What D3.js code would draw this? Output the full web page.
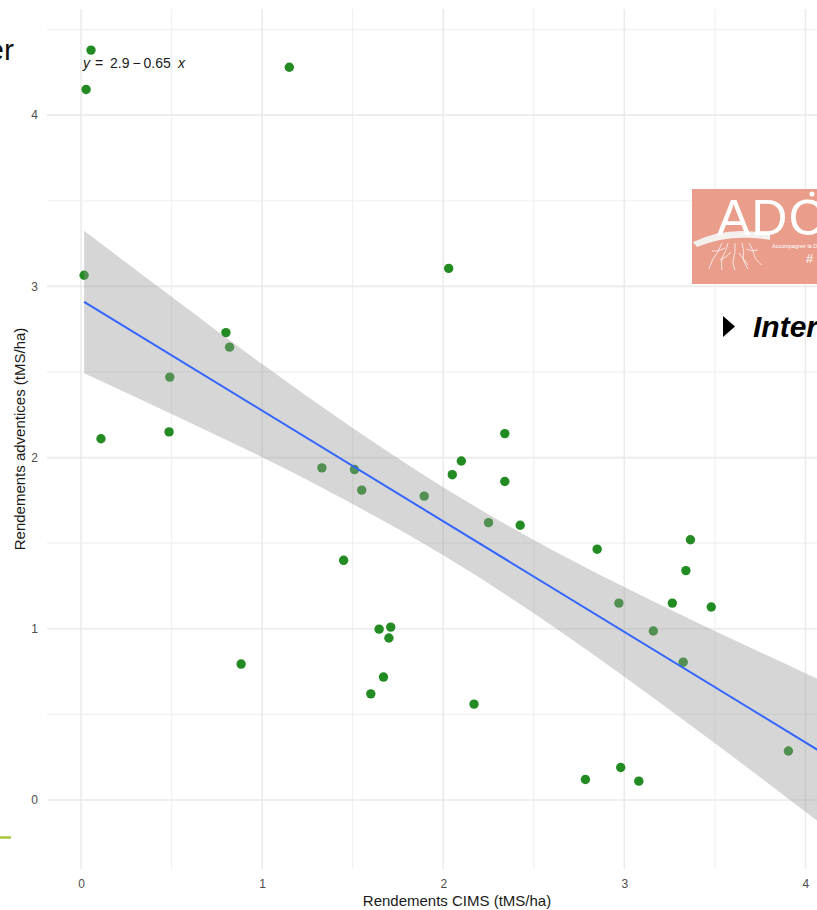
<!DOCTYPE html>
<html>
<head>
<meta charset="utf-8">
<script src="https://cdn.jsdelivr.net/npm/d3@7/dist/d3.min.js"></script>
<style>
  html, body { margin: 0; padding: 0; background: #ffffff; }
  svg { display: block; }
  text { font-family: "Liberation Sans", Arial, sans-serif; }
</style>
</head>
<body>
<svg id="chart" width="817" height="910"></svg>
<script>
// Rendements CIMS (x) vs rendements adventices (y), tMS/ha
const cimsYield = [0.055, 0.028, 1.15, 0.017, 2.03, 0.80, 0.82, 0.49, 0.11, 0.486,
  1.33, 1.51, 1.55, 1.895, 2.05, 2.10, 2.34, 2.34, 2.25, 2.425,
  1.45, 2.85, 3.365, 3.34, 2.97, 3.265, 3.16, 3.48, 3.325, 1.646,
  1.71, 1.70, 1.67, 1.60, 0.884, 2.17, 2.785, 2.98, 3.08, 3.906];
const weedYield = [4.38, 4.15, 4.28, 3.065, 3.105, 2.73, 2.645, 2.47, 2.11, 2.15,
  1.94, 1.93, 1.81, 1.775, 1.90, 1.98, 2.14, 1.86, 1.62, 1.605,
  1.40, 1.465, 1.52, 1.34, 1.15, 1.15, 0.987, 1.127, 0.805, 0.998,
  1.01, 0.946, 0.718, 0.62, 0.794, 0.56, 0.12, 0.19, 0.11, 0.286];

// Linear fit and its 95% confidence band
const fitCoef = [2.92, -0.646];           // intercept, slope
const fitRange = [0.017, 4.134];
const bandX  = [0.017, 0.5, 1.0, 1.5, 2.0, 2.5, 3.0, 3.5, 4.0, 4.134];
const bandLo = [2.493, 2.255, 2.002, 1.729, 1.429, 1.091, 0.720, 0.331, -0.069, -0.178];
const bandHi = [3.325, 2.939, 2.546, 2.173, 1.827, 1.519, 1.244, 0.987, 0.741, 0.676];

// Axes
const xLimits = [-0.188, 4.34];
const yLimits = [-0.403, 4.62];
const xTicks = [0, 1, 2, 3, 4];
const yTicks = [0, 1, 2, 3, 4];
const xMinor = [0.5, 1.5, 2.5, 3.5];
const yMinor = [0.5, 1.5, 2.5, 3.5, 4.5];

const svg = d3.select("#chart");
const W = 817, H = 910;
const panel = { left: 47, right: 867, top: 9, bottom: 869 };

const x = d3.scaleLinear().domain(xLimits).range([panel.left, panel.right]);
const y = d3.scaleLinear().domain(yLimits).range([panel.bottom, panel.top]);

svg.append("rect").attr("width", W).attr("height", H).attr("fill", "#ffffff");

// Grid (minor then major)
const grid = svg.append("g");
grid.selectAll(".xminor").data(xMinor).join("line")
  .attr("x1", d => x(d)).attr("x2", d => x(d))
  .attr("y1", panel.top).attr("y2", panel.bottom)
  .attr("stroke", "#f0f0f0").attr("stroke-width", 1.2);
grid.selectAll(".yminor").data(yMinor).join("line")
  .attr("y1", d => y(d)).attr("y2", d => y(d))
  .attr("x1", panel.left).attr("x2", panel.right)
  .attr("stroke", "#f0f0f0").attr("stroke-width", 1.2);
grid.selectAll(".xmajor").data(xTicks).join("line")
  .attr("x1", d => x(d)).attr("x2", d => x(d))
  .attr("y1", panel.top).attr("y2", panel.bottom)
  .attr("stroke", "#ebebeb").attr("stroke-width", 1.6);
grid.selectAll(".ymajor").data(yTicks).join("line")
  .attr("y1", d => y(d)).attr("y2", d => y(d))
  .attr("x1", panel.left).attr("x2", panel.right)
  .attr("stroke", "#ebebeb").attr("stroke-width", 1.6);

// Tick labels via d3 axes (no domain line, no tick marks)
const xAxis = svg.append("g")
  .attr("transform", `translate(0,${panel.bottom})`)
  .call(d3.axisBottom(x).tickValues(xTicks).tickFormat(d3.format("d")).tickSize(0).tickPadding(10));
const yAxis = svg.append("g")
  .attr("transform", `translate(${panel.left},0)`)
  .call(d3.axisLeft(y).tickValues(yTicks).tickFormat(d3.format("d")).tickSize(0).tickPadding(9));
[xAxis, yAxis].forEach(g => {
  g.select(".domain").remove();
  g.selectAll("text").attr("fill", "#4d4d4d").attr("font-size", 12)
    .attr("font-family", "Liberation Sans, Arial, sans-serif");
});

svg.append("text")
  .attr("x", (panel.left + panel.right) / 2).attr("y", 906)
  .attr("text-anchor", "middle").attr("font-size", 15).attr("fill", "#1a1a1a")
  .text("Rendements CIMS (tMS/ha)");
svg.append("text")
  .attr("transform", `translate(25,${(panel.top + panel.bottom) / 2}) rotate(-90)`)
  .attr("text-anchor", "middle").attr("font-size", 15).attr("fill", "#1a1a1a")
  .text("Rendements adventices (tMS/ha)");

// Clip for the plotting panel
svg.append("clipPath").attr("id", "panelClip").append("rect")
  .attr("x", panel.left).attr("y", panel.top)
  .attr("width", panel.right - panel.left).attr("height", panel.bottom - panel.top);
const plot = svg.append("g").attr("clip-path", "url(#panelClip)");

// Points
plot.selectAll("circle.pt").data(cimsYield.map((v, i) => [v, weedYield[i]])).join("circle")
  .attr("class", "pt")
  .attr("cx", d => x(d[0])).attr("cy", d => y(d[1])).attr("r", 4.7)
  .attr("fill", "#228B22");

// Confidence band drawn over the points
const band = d3.area()
  .x(d => x(d[0])).y0(d => y(d[1])).y1(d => y(d[2]))
  .curve(d3.curveMonotoneX);
plot.append("path")
  .datum(bandX.map((v, i) => [v, bandLo[i], bandHi[i]]))
  .attr("d", band).attr("fill", "#999999").attr("fill-opacity", 0.4);

// Fitted line
const fitLine = d3.line().x(d => x(d)).y(d => y(fitCoef[0] + fitCoef[1] * d));
plot.append("path").datum(fitRange).attr("d", fitLine)
  .attr("fill", "none").attr("stroke", "#3366FF").attr("stroke-width", 2);

// Equation label, laid out piece by piece like a plotmath expression
const fmt2 = v => d3.format(".2")(v);
const eqParts = [
  { t: "y", italic: true, at: 83 },
  { t: "=", at: 95 },
  { t: fmt2(fitCoef[0]), at: 110 },
  { t: fitCoef[1] < 0 ? "\u2212" : "+", at: 132.5 },
  { t: fmt2(Math.abs(fitCoef[1])), at: 143.5 },
  { t: "x", italic: true, at: 178 }
];
const eq = svg.append("text").attr("y", 68).attr("font-size", 14).attr("fill", "#1a1a1a");
eqParts.forEach(p => {
  eq.append("tspan").attr("x", p.at).attr("font-style", p.italic ? "italic" : "normal").text(p.t);
});

// Slide elements around the chart
svg.append("text").attr("x", 14).attr("y", 60).attr("text-anchor", "end")
  .attr("font-size", 30).attr("fill", "#111").text("er");

svg.append("line").attr("x1", 0).attr("x2", 11).attr("y1", 837.5).attr("y2", 837.5)
  .attr("stroke", "#a5c83c").attr("stroke-width", 2.5);

// Logo block
const logo = svg.append("g");
logo.append("rect").attr("x", 692).attr("y", 189).attr("width", 130).attr("height", 95).attr("fill", "#ea9d8b");
logo.append("path")
  .attr("d", "M693,242 Q728,225 770,234 L770,240 Q730,233 697,247 Z")
  .attr("fill", "#f3f0ee");
logo.append("text").attr("x", 717).attr("y", 235).attr("font-size", 50)
  .attr("fill", "#ffffff").attr("letter-spacing", 1).text("ADC");
logo.append("circle").attr("cx", 812).attr("cy", 194).attr("r", 2.5).attr("fill", "#ffffff");
const roots = [
  "M722,243 q-4,10 -9,16 q-2,4 -4,10",
  "M728,243 q-2,9 -6,15 q-1,5 0,12",
  "M735,243 q1,10 -2,18 q0,5 2,9",
  "M742,243 q3,9 1,16 q2,5 5,10",
  "M749,243 q5,8 6,15 q3,4 7,7",
  "M725,248 q-8,4 -13,3",
  "M746,249 q7,3 12,1",
  "M731,252 q-5,6 -11,8",
  "M739,253 q5,6 9,12"
];
logo.selectAll("path.root").data(roots).join("path").attr("class", "root")
  .attr("d", d => d).attr("fill", "none").attr("stroke", "#ffffff").attr("stroke-width", 0.8).attr("opacity", 0.9);
logo.append("text").attr("x", 772).attr("y", 248).attr("font-size", 5.5).attr("fill", "#ffffff")
  .text("Accompagner la D");
logo.append("text").attr("x", 806).attr("y", 263).attr("font-size", 13).attr("fill", "#ffffff").text("#");

// Bullet line
svg.append("path").attr("d", "M723,316 L735,326.5 L723,337 Z").attr("fill", "#000");
svg.append("text").attr("x", 753).attr("y", 337).attr("font-size", 30)
  .attr("font-weight", "bold").attr("font-style", "italic").attr("fill", "#000").text("Inter");
</script>
</body>
</html>
